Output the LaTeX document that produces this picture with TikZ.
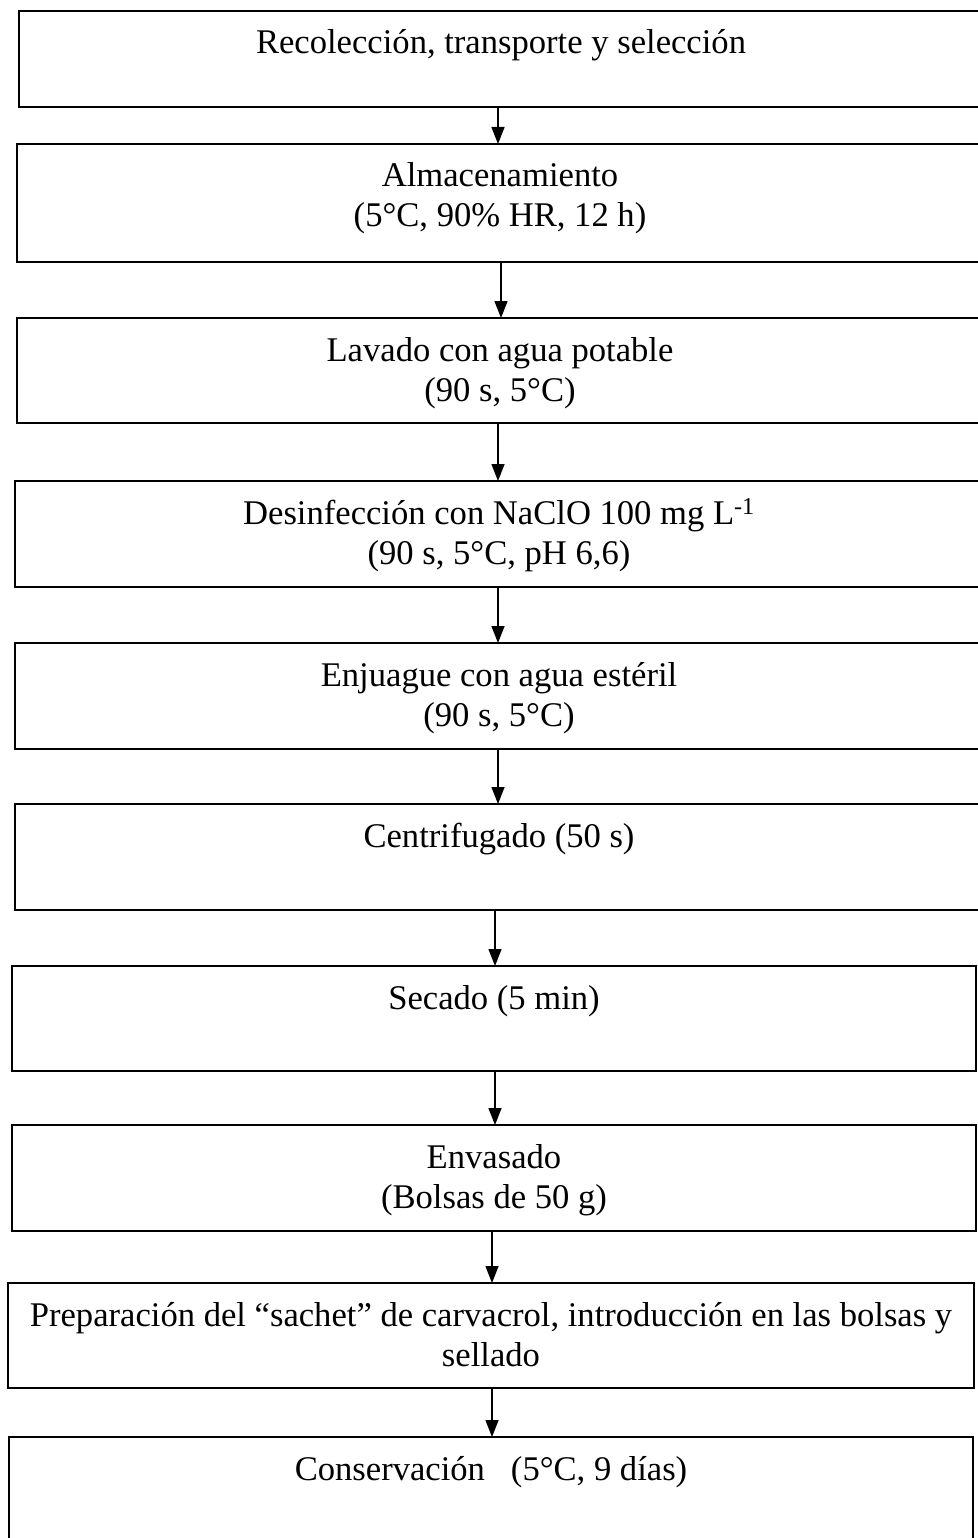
\documentclass[tikz,border=0pt]{standalone}
\usepackage{fontspec}
\setmainfont{Liberation Serif}
\usetikzlibrary{arrows.meta}
\tikzset{
  box/.style={draw=black, line width=1.5pt, inner sep=0pt, outer sep=0pt, anchor=north west},
  lbl/.style={font=\fontsize{34.6}{40}\selectfont, inner sep=0pt, outer sep=0pt, align=center, anchor=north},
  arr/.style={line width=1.4pt, -{Triangle[length=17pt,width=13pt]}}
}
\begin{document}
\begin{tikzpicture}[x=1pt,y=-1pt]
\useasboundingbox (0,0) rectangle (977,1538);
% boxes
\node[box, minimum width=964pt, minimum height=96pt]  (b1)  at (19,11)   {};
\node[box, minimum width=966pt, minimum height=118pt] (b2)  at (17,144)  {};
\node[box, minimum width=966pt, minimum height=105pt] (b3)  at (17,318)  {};
\node[box, minimum width=968pt, minimum height=106pt] (b4)  at (15,481)  {};
\node[box, minimum width=968pt, minimum height=106pt] (b5)  at (15,643)  {};
\node[box, minimum width=968pt, minimum height=106pt] (b6)  at (15,804)  {};
\node[box, minimum width=964pt, minimum height=105pt] (b7)  at (12,966)  {};
\node[box, minimum width=964pt, minimum height=106pt] (b8)  at (12,1125) {};
\node[box, minimum width=966pt, minimum height=105pt] (b9)  at (8,1283)  {};
\node[box, minimum width=964pt, minimum height=125pt] (b10) at (9,1437)  {};
% texts
\node[lbl] (t1)  at ([yshift=-15pt]b1.north)  {\strut Recolección, transporte y selección};
\node[lbl] (t2)  at ([yshift=-15pt]b2.north)  {\strut Almacenamiento\\\strut (5°C, 90\% HR, 12 h)};
\node[lbl] (t3)  at ([yshift=-15pt]b3.north)  {\strut Lavado con agua potable\\\strut (90 s, 5°C)};
\node[lbl] (t4)  at ([yshift=-15pt]b4.north)  {\strut Desinfección con NaClO 100 mg L\textsuperscript{-1}\\\strut (90 s, 5°C, pH 6,6)};
\node[lbl] (t5)  at ([yshift=-15pt]b5.north)  {\strut Enjuague con agua estéril\\\strut (90 s, 5°C)};
\node[lbl] (t6)  at ([yshift=-15pt]b6.north)  {\strut Centrifugado (50 s)};
\node[lbl] (t7)  at ([yshift=-15pt]b7.north)  {\strut Secado (5 min)};
\node[lbl] (t8)  at ([yshift=-15pt]b8.north)  {\strut Envasado\\\strut (Bolsas de 50 g)};
\node[lbl] (t9)  at ([yshift=-15pt]b9.north)  {\strut Preparación del “sachet” de carvacrol, introducción en las bolsas y\\\strut sellado};
\node[lbl] (t10) at ([yshift=-15pt]b10.north) {\strut Conservación\ \ \ (5°C, 9 días)};
% arrow x positions
\coordinate (x1) at (498,0);
\coordinate (x2) at (501,0);
\coordinate (x3) at (498,0);
\coordinate (x4) at (498,0);
\coordinate (x5) at (498,0);
\coordinate (x6) at (495,0);
\coordinate (x7) at (495,0);
\coordinate (x8) at (492,0);
\coordinate (x9) at (492,0);
% arrows
\draw[arr] (b1.south -| x1) -- (b2.north -| x1);
\draw[arr] (b2.south -| x2) -- (b3.north -| x2);
\draw[arr] (b3.south -| x3) -- (b4.north -| x3);
\draw[arr] (b4.south -| x4) -- (b5.north -| x4);
\draw[arr] (b5.south -| x5) -- (b6.north -| x5);
\draw[arr] (b6.south -| x6) -- (b7.north -| x6);
\draw[arr] (b7.south -| x7) -- (b8.north -| x7);
\draw[arr] (b8.south -| x8) -- (b9.north -| x8);
\draw[arr] (b9.south -| x9) -- (b10.north -| x9);
\end{tikzpicture}
\end{document}
